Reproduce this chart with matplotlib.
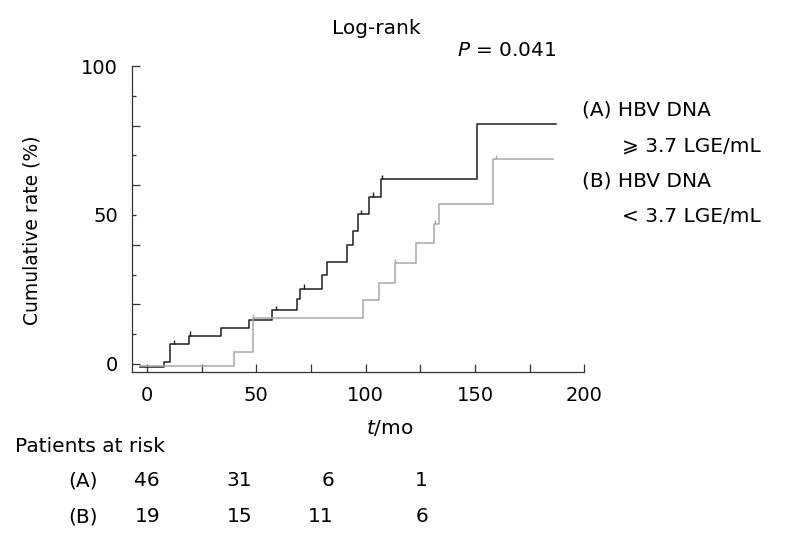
import matplotlib
matplotlib.use('Agg')
import matplotlib.pyplot as plt

# group A: HBV DNA >= 3.7 LGE/mL (black), group B: < 3.7 LGE/mL (grey)
time_a = [-3, 8.0, 10.3, 19.0, 34.0, 46.6, 57.1, 68.6, 70.2, 80.0, 82.3, 91.4,
          94.4, 96.3, 101.6, 107.0, 151.1, 187.1]
rate_a = [-1.0, 0.6, 6.7, 9.4, 12.0, 14.8, 18.1, 21.7, 25.3, 29.9, 34.3, 39.9,
          44.7, 50.2, 56.1, 62.0, 80.5, 80.5]
censor_a_t = [12.2, 19.8, 59.0, 71.9, 98.1, 103.3, 107.4]
censor_a_y = [6.7, 9.4, 18.1, 25.3, 50.2, 56.1, 62.0]

time_b = [-3, 40.0, 48.4, 99.0, 106.2, 113.2, 123.1, 131.4, 133.6, 158.1, 185.6]
rate_b = [-0.7, 4.1, 15.3, 21.5, 27.2, 33.8, 40.7, 46.9, 53.6, 68.7, 68.7]
censor_b_t = [48.6, 113.5, 131.8, 159.5]
censor_b_y = [15.3, 33.8, 46.9, 68.7]

risk_a = ['46', '31', '6', '1']
risk_b = ['19', '15', '11', '6']

W, H = 787, 547
fs = 14.5
fig = plt.figure(figsize=(W / 100, H / 100), dpi=100)
ax = fig.add_axes([131.7 / W, 1 - 371.7 / H, (584.3 - 131.7) / W, (371.7 - 66) / H])

ax.step(time_a, rate_a, where='post', color='#1e1e1e', lw=1.1)
ax.step(time_b, rate_b, where='post', color='#a8a8a8', lw=1.1)
ax.vlines(censor_a_t, censor_a_y, [y + 1.5 for y in censor_a_y], color='#1e1e1e', lw=1.0)
ax.vlines(censor_b_t, censor_b_y, [y + 1.5 for y in censor_b_y], color='#a8a8a8', lw=1.0)

ax.set_xlim(-7, 200)
ax.set_ylim(-2.6, 100)
for s in ['top', 'right']:
    ax.spines[s].set_visible(False)
for s in ['left', 'bottom']:
    ax.spines[s].set_linewidth(0.9)
    ax.spines[s].set_color('#333333')

ax.set_xticks([0, 50, 100, 150, 200])
ax.set_xticks([25, 75, 125, 175], minor=True)
ax.set_yticks([0, 20, 40, 60, 80, 100])
ax.set_yticklabels(['0', '', '', '', '', '100'])
ax.set_yticks([10, 30, 50, 70, 90], minor=True)
ax.set_yticklabels(['', '', '50', '', ''], minor=True)
ax.tick_params(axis='x', which='both', direction='in', length=5.8, width=0.9,
               color='#333333', labelsize=14, pad=10)
ax.tick_params(axis='y', which='major', direction='in', length=5.8, width=0.9,
               color='#333333', labelsize=14, pad=10)
ax.tick_params(axis='y', which='minor', direction='in', length=3.0, width=0.9,
               color='#333333', labelsize=14, pad=10)

fig.text(32 / W, 1 - 230 / H, 'Cumulative rate (%)', fontsize=13.5, rotation=90,
         ha='center', va='center')

fig.text(376 / W, 1 - 29 / H, 'Log-rank', fontsize=fs, ha='center', va='center')
fig.text(457 / W, 1 - 50 / H, '$P$ = 0.041', fontsize=fs, ha='left', va='center')
fig.text(390 / W, 1 - 428 / H, '$t$/mo', fontsize=fs, ha='center', va='center')

fig.text(582 / W, 1 - 110 / H, '(A) HBV DNA', fontsize=fs, ha='left', va='center')
fig.text(622 / W, 1 - 146 / H, '\u2a7e 3.7 LGE/mL', fontsize=fs, ha='left', va='center')
fig.text(582 / W, 1 - 181 / H, '(B) HBV DNA', fontsize=fs, ha='left', va='center')
fig.text(622 / W, 1 - 216 / H, '< 3.7 LGE/mL', fontsize=fs, ha='left', va='center')

fig.text(15 / W, 1 - 446 / H, 'Patients at risk', fontsize=fs, ha='left', va='center')
fig.text(68 / W, 1 - 481 / H, '(A)', fontsize=fs, ha='left', va='center')
fig.text(68 / W, 1 - 517 / H, '(B)', fontsize=fs, ha='left', va='center')
col_right = [160, 252, 334, 428]
for xr, na, nb in zip(col_right, risk_a, risk_b):
    fig.text(xr / W, 1 - 481 / H, na, fontsize=fs, ha='right', va='center')
    fig.text(xr / W, 1 - 517 / H, nb, fontsize=fs, ha='right', va='center')

fig.savefig('out.png', dpi=100)
